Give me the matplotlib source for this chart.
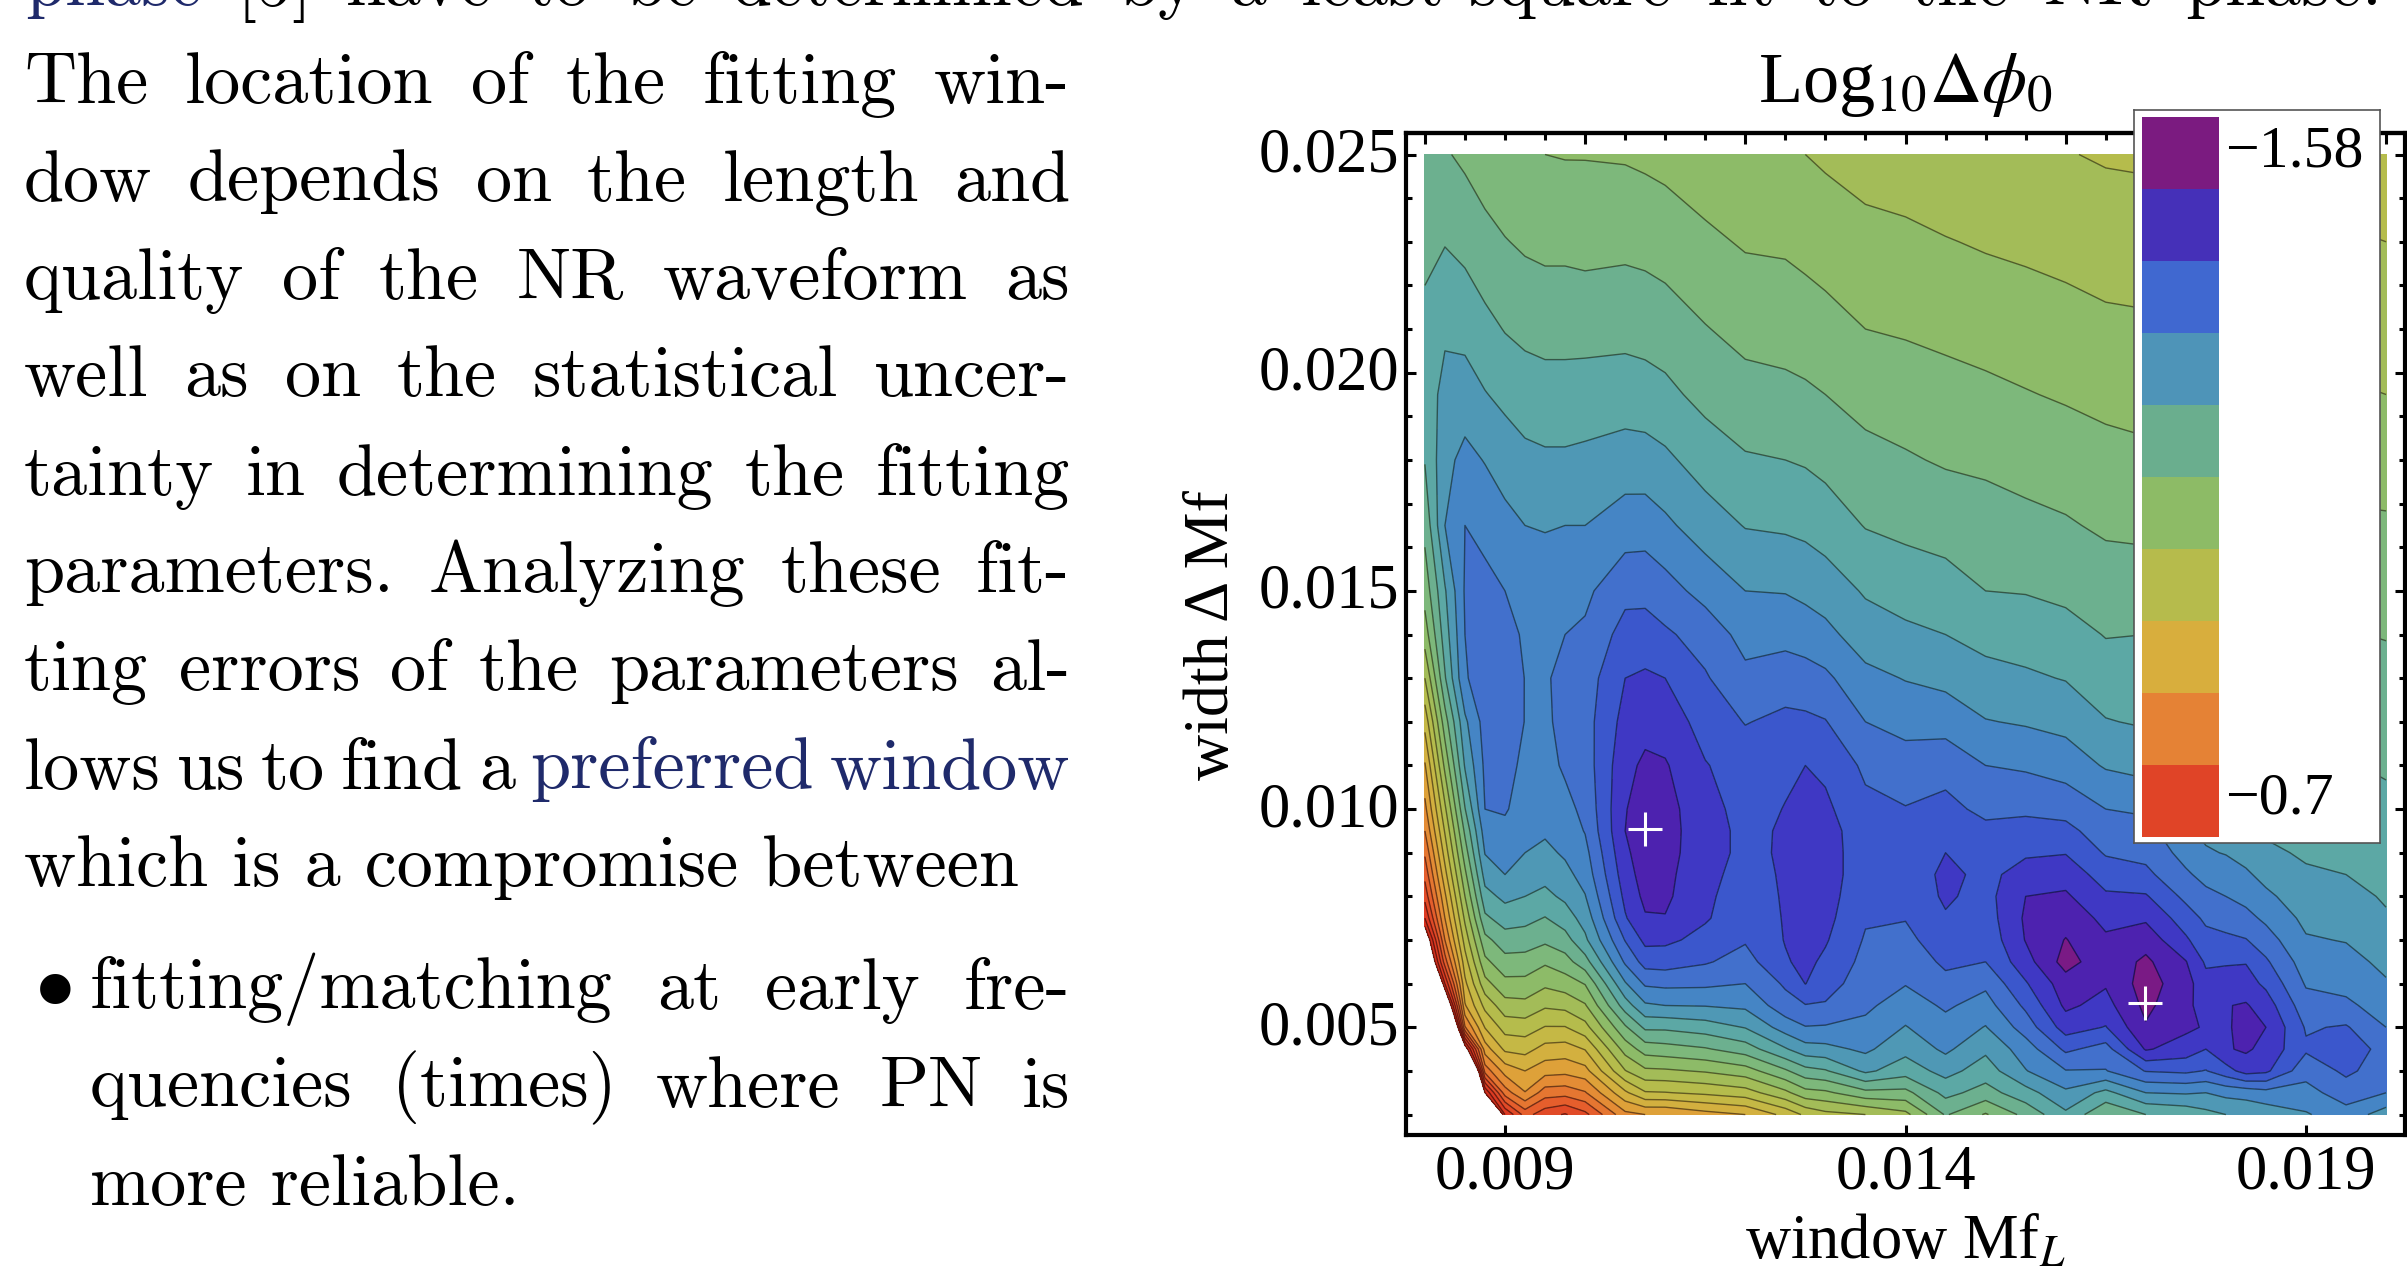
import numpy as np
import matplotlib
matplotlib.use('Agg')
import matplotlib.pyplot as plt
from matplotlib.transforms import ScaledTranslation

W, H = 2407, 1269

# grid rows (width Mf)
y_rows = [0.003, 0.0035, 0.004, 0.0045, 0.005, 0.0055, 0.006, 0.0065, 0.007, 0.0075, 0.008, 0.0085, 0.009,
          0.0095, 0.010, 0.011, 0.012, 0.013, 0.014, 0.015, 0.0165, 0.018, 0.0195, 0.021, 0.023, 0.025]

# grid columns (window MfL)
x_cols = [0.008, 0.00825, 0.0085, 0.00875, 0.009, 0.00925, 0.0095, 0.00975, 0.010, 0.0105, 0.01075, 0.011, 0.0115,
          0.012, 0.0125, 0.01275, 0.013, 0.0135, 0.014, 0.0145, 0.015, 0.0155, 0.016, 0.0165, 0.017, 0.0175,
          0.01775, 0.018, 0.01825, 0.0185, 0.019, 0.0195, 0.020]

# values, in contour steps, one list per column
c0080 = [30, 30, 30, 30, 30, 30, 30, 24.5, 22.6, 20, 18.65, 17.7, 16.85, 16, 15.3, 14.1, 12.65, 11, 9.5, 8.6, 7.7, 6.95, 6.7, 6.8, 7.2, 7.7]
c00825 = [30, 30, 30, 30, 30, 24, 20, 17.5, 16, 15, 14.2, 13.35, 12.6, 11.9, 11.2, 9.75, 8.45, 7.1, 6.5, 6.1, 5.0, 5.3, 5.6, 6.2, 7.05, 7.9]
c0085 = [30, 30, 30, 22, 16.1, 14.1, 13.25, 12.45, 11.6, 10.8, 10, 9.25, 8.5, 7.8, 7.05, 5.9, 5.2, 4.1, 4.0, 3.9, 4.0, 4.7, 5.55, 6.3, 7.3, 8.2]
c00875 = [30, 21, 16.6, 14.5, 12.95, 11.7, 10.35, 9.25, 8.3, 7.2, 6.35, 5.6, 4.95, 4.5, 4.0, 3.8, 3.6, 3.5, 3.5, 3.7, 4.3, 5.05, 5.95, 6.7, 7.7, 8.5]
c0090 = [20, 16.5, 14.6, 12.8, 11.6, 10.4, 9.3, 8.35, 7.45, 6.55, 5.75, 5.0, 4.6, 4.25, 3.9, 3.7, 3.55, 3.5, 3.5, 4.0, 4.7, 5.45, 6.25, 7.05, 7.95, 8.8]
c00925 = [17.6, 15.05, 14, 12.65, 11.5, 10.3, 9.3, 8.4, 7.5, 6.7, 6.0, 5.45, 5.0, 4.65, 4.45, 4.2, 4.02, 4.02, 4.2, 4.5, 5.0, 5.75, 6.5, 7.25, 8.15, 8.95]
c0095 = [18.6, 16.5, 14.6, 13.35, 12.05, 10.85, 9.8, 8.85, 7.8, 7.05, 6.25, 5.7, 5.25, 4.85, 4.65, 4.35, 4.15, 4.1, 4.3, 4.6, 5.05, 5.85, 6.6, 7.35, 8.25, 9.0]
c00975 = [19.1, 16.6, 14.7, 13.45, 12.05, 10.7, 9.5, 8.4, 7.4, 6.5, 5.8, 5.3, 4.85, 4.55, 4.3, 3.85, 3.75, 3.75, 4.0, 4.45, 5.0, 5.85, 6.6, 7.35, 8.25, 9.05]
c0100 = [18.3, 16.1, 14.35, 12.95, 11.35, 10.1, 8.95, 7.4, 6.2, 5.6, 5.05, 4.6, 4.3, 3.95, 3.75, 3.5, 3.4, 3.5, 3.85, 4.2, 5.0, 5.8, 6.5, 7.4, 8.3, 9.05]
c0105 = [15.3, 13.2, 11.05, 9.6, 8.15, 6.5, 5.1, 3.85, 2.95, 2.1, 1.75, 1.45, 1.2, 1.0, 1.05, 1.3, 1.65, 2.0, 2.6, 3.3, 4.5, 5.55, 6.5, 7.3, 8.25, 9.1]
c01075 = [15, 12.1, 10.2, 8.55, 6.8, 5.15, 3.85, 2.6, 1.75, 1.1, 0.75, 0.55, 0.45, 0.45, 0.55, 0.8, 1.35, 1.85, 2.55, 3.3, 4.45, 5.6, 6.55, 7.4, 8.3, 9.2]
c0110 = [15, 12.05, 10.15, 8.4, 6.8, 5, 3.75, 2.55, 1.8, 1.05, 0.8, 0.7, 0.55, 0.5, 0.55, 0.9, 1.5, 2, 2.85, 3.6, 4.8, 5.8, 6.75, 7.5, 8.45, 9.3]
c0115 = [14.4, 11.8, 9.9, 8.1, 6.5, 4.95, 3.8, 2.9, 2.3, 1.9, 1.85, 1.8, 1.75, 1.75, 1.8, 1.95, 2.35, 2.9, 3.4, 4.35, 5.5, 6.45, 7.3, 7.95, 8.8, 9.6]
c0120 = [14, 11.45, 9.45, 7.5, 5.95, 4.8, 4, 3.4, 2.9, 2.6, 2.4, 2.25, 2.15, 2.15, 2.2, 2.4, 3.05, 3.75, 4.35, 5, 6.05, 6.9, 7.65, 8.3, 9.1, 9.75]
c0125 = [12.7, 10.25, 8.15, 6.1, 4.55, 3.4, 2.85, 2.1, 1.95, 1.93, 1.92, 1.92, 1.92, 1.93, 1.98, 2.1, 2.75, 3.5, 4.3, 5.05, 6.15, 7, 7.75, 8.4, 9.15, 9.95]
c01275 = [11.8, 9.35, 7.35, 5.4, 4.05, 3.05, 1.98, 1.75, 1.65, 1.6, 1.55, 1.55, 1.6, 1.7, 1.85, 2.0, 2.8, 3.6, 4.45, 5.25, 6.25, 7.1, 7.85, 8.5, 9.3, 10.0]
c0130 = [11.3, 9.2, 7.1, 5.3, 4.1, 3.1, 2.55, 2.2, 1.9, 1.7, 1.6, 1.6, 1.6, 1.65, 1.8, 2.2, 2.95, 3.8, 4.7, 5.5, 6.45, 7.3, 8, 8.65, 9.45, 10.15]
c0135 = [11, 8.3, 5.8, 4.8, 4.25, 3.8, 3.55, 3.3, 3.1, 2.9, 2.7, 2.5, 2.5, 2.5, 2.75, 3.2, 4, 4.7, 5.55, 6.1, 7.05, 7.7, 8.35, 9, 9.7, 10.4]
c0140 = [10.3, 8.3, 6.55, 5.7, 5.05, 4.5, 3.95, 3.65, 3.3, 2.95, 2.7, 2.55, 2.5, 2.6, 2.95, 3.6, 4.3, 5.05, 5.8, 6.4, 7.25, 7.9, 8.5, 9.1, 9.8, 10.5]
c0145 = [7.9, 6.7, 5.65, 4.8, 4.35, 3.85, 3.3, 2.8, 2.35, 2.1, 1.85, 1.8, 2, 2.35, 2.65, 3.45, 4.35, 5.3, 6, 6.6, 7.4, 8.1, 8.7, 9.2, 9.95, 10.75]
c0150 = [9.1, 7.4, 6.5, 5.8, 5.05, 4.4, 3.8, 3, 2.7, 2.5, 2.35, 2.2, 2.25, 2.7, 3.3, 4, 4.95, 5.7, 6.3, 7, 7.55, 8.2, 8.8, 9.35, 10.1, 10.85]
c0155 = [7.7, 6.4, 5.05, 4.5, 3.55, 2.8, 2.1, 1.4, 0.95, 0.85, 1, 1.7, 2.1, 2.7, 3.15, 4.15, 5.1, 5.85, 6.45, 7.05, 7.75, 8.35, 8.95, 9.5, 10.2, 10.9]
c0160 = [6.2, 5.2, 4.05, 2.8, 1.55, 0.8, 0.45, -0.4, -0.05, 0.4, 0.85, 1.4, 2.05, 2.7, 3.35, 4.45, 5.3, 6.05, 6.6, 7.25, 7.9, 8.5, 9.1, 9.6, 10.35, 10.95]
c0165 = [7.9, 6.3, 4.05, 3.4, 2.05, 1.35, 0.9, 0.65, 0.85, 1.25, 1.85, 2.45, 3.1, 3.55, 4, 5.1, 5.95, 6.5, 7.05, 7.5, 8.15, 8.7, 9.25, 9.8, 10.45, 11.1]
c0170 = [7, 5, 2.95, 0.9, 0.1, -0.25, -0.45, -0.2, 0.4, 1.15, 1.9, 2.75, 3.3, 3.65, 4.15, 5.35, 6.1, 6.55, 7, 7.55, 8.2, 8.8, 9.35, 9.85, 10.5, 11.15]
c0175 = [6.7, 4.9, 2.8, 1.45, 0.8, 0.8, 0.6, 0.95, 1.85, 2.5, 3.25, 3.85, 4.35, 4.85, 5.15, 6, 6.45, 6.85, 7.3, 7.8, 8.4, 8.9, 9.4, 9.95, 10.55, 11.2]
c01775 = [6.3, 5, 3.05, 2, 1.1, 1.35, 1.65, 2.15, 2.65, 3.2, 3.75, 4.3, 4.9, 5.2, 5.6, 6.25, 6.6, 7, 7.45, 7.9, 8.45, 8.95, 9.45, 9.95, 10.6, 11.25]
c0180 = [6, 4.7, 2.4, 1.1, 1.1, 1.05, 1.55, 2.1, 2.8, 3.4, 4, 4.55, 5.05, 5.45, 6, 6.4, 6.65, 7.05, 7.5, 7.95, 8.5, 9, 9.5, 10, 10.65, 11.3]
c01825 = [5.8, 4.6, 1.6, 0.85, 0.75, 0.9, 1.6, 2.05, 2.95, 3.7, 4.3, 4.85, 5.35, 5.8, 6.15, 6.5, 6.8, 7.2, 7.6, 8, 8.55, 9.05, 9.55, 10.05, 10.7, 11.35]
c0185 = [5.6, 4.35, 1.8, 1.3, 1, 1.5, 2.2, 2.85, 3.55, 4.2, 4.8, 5.3, 5.85, 6.1, 6.3, 6.6, 6.95, 7.3, 7.65, 8.05, 8.6, 9.1, 9.6, 10.1, 10.75, 11.35]
c0190 = [5.1, 4.35, 3.65, 2.85, 3.1, 3.6, 4.1, 4.5, 4.9, 5.25, 5.55, 5.9, 6.1, 6.3, 6.45, 6.75, 7.1, 7.5, 7.8, 8.15, 8.75, 9.25, 9.75, 10.2, 10.8, 11.4]
c0195 = [4.4, 3.5, 2.8, 2.6, 2.9, 3.8, 4.3, 4.65, 5.05, 5.35, 5.7, 6, 6.15, 6.35, 6.6, 6.95, 7.3, 7.65, 7.95, 8.3, 8.85, 9.35, 9.9, 10.35, 10.9, 11.5]
c0200 = [5.5, 4, 3.5, 3.25, 4, 4.45, 4.9, 5.25, 5.55, 5.9, 6.1, 6.3, 6.45, 6.6, 6.8, 7.1, 7.4, 7.7, 8.05, 8.35, 8.9, 9.35, 10, 10.45, 11, 11.6]

columns = [c0080, c00825, c0085, c00875, c0090, c00925, c0095, c00975, c0100, c0105, c01075, c0110, c0115, c0120,
           c0125, c01275, c0130, c0135, c0140, c0145, c0150, c0155, c0160, c0165, c0170, c0175, c01775, c0180,
           c01825, c0185, c0190, c0195, c0200]

# best windows
best_x = [0.01075, 0.01699]
best_y = [0.00954, 0.00556]

# one colour for each contour band
band_colors = ['#7A1A85', '#4D22AF', '#3F38C4', '#3B57CC', '#4270CC', '#4585C5', '#4F98B5', '#5CA8A5',
               '#6CB08F', '#7DB87B', '#8DBB68', '#A3BC58', '#B5BC4C', '#C5B845', '#D3B03F', '#DEA139',
               '#E48C35', '#E57631', '#E55E2C', '#E14A27', '#DE3A22', '#D4301E']

legend_colors = ['#E04427', '#E58235', '#D8AE3D', '#B6BB4C', '#8DBB66', '#6AAE8E', '#4E94B8', '#4068D0',
                 '#4530B8', '#7B1B80']
legend_labels = ['\u22120.7', '\u22121.58']

# page text, line by line
body_lines = [['The', 'location', 'of', 'the', 'fitting', 'win-'],
              ['dow', 'depends', 'on', 'the', 'length', 'and'],
              ['quality', 'of', 'the', 'NR', 'waveform', 'as'],
              ['well', 'as', 'on', 'the', 'statistical', 'uncer-'],
              ['tainty', 'in', 'determining', 'the', 'fitting'],
              ['parameters.', 'Analyzing', 'these', 'fit-'],
              ['ting', 'errors', 'of', 'the', 'parameters', 'al-'],
              ['lows', 'us', 'to', 'find', 'a', 'preferred', 'window']]
top_line = ['phase', '[5]', 'have', 'to', 'be', 'determined', 'by', 'a', 'least-square', 'fit', 'to', 'the', 'NR', 'phase.']
bullet_lines = [['fitting/matching', 'at', 'early', 'fre-'],
                ['quencies', '(times)', 'where', 'PN', 'is']]
navy_words = ['preferred', 'window']
navy = '#1F2A6B'

fig = plt.figure(figsize=(W / 100, H / 100), dpi=100)
renderer = fig.canvas.get_renderer()
body_size = 52


def put_line(words, x0, x1, y, navy_first=False):
    # justified line: the space between the words is whatever is left over
    items = []
    for w in words:
        color = navy if w in navy_words else 'black'
        items.append(fig.text(x0 / W, 1 - y / H, w, family='cmr10', fontsize=body_size, color=color, va='baseline'))
    if navy_first:
        items[0].set_color(navy)
    widths = [t.get_window_extent(renderer).width for t in items]
    gap = (x1 - x0 - sum(widths)) / (len(words) - 1)
    x = x0
    for t, w in zip(items, widths):
        t.set_x(x / W)
        x += w + gap


put_line(top_line, 25, 2382, 5, navy_first=True)
for i, line in enumerate(body_lines):
    put_line(line, 24, 1070, 102.5 + i * 98)
fig.text(24 / W, 1 - 886.5 / H, 'which is a compromise between', family='cmr10', fontsize=body_size)
fig.text(33 / W, 1 - 1031 / H, '\u2022', family='Liberation Serif', fontsize=92)
put_line(bullet_lines[0], 90, 1070, 1008.5)
put_line(bullet_lines[1], 90, 1070, 1106.5)
fig.text(90 / W, 1 - 1204.5 / H, 'more reliable.', family='cmr10', fontsize=body_size)

# contour plot
ax = fig.add_axes([1406 / W, (H - 1135) / H, (2405 - 1406) / W, (1135 - 133) / H])
log_dphi = -1.56 + 0.04 * np.array(columns).T
levels = -1.56 + 0.04 * np.arange(-1, 22)
ax.contourf(x_cols, y_rows, log_dphi, levels=levels, colors=band_colors)
ax.contour(x_cols, y_rows, log_dphi, levels=levels[1:], colors='black', linewidths=1.0, alpha=0.5,
           linestyles='solid')
ax.plot(best_x, best_y, '+', color='white', ms=24, mew=2.2)

ax.set_xlim(0.009 + (1406 - 1505) / 80100, 0.009 + (2405 - 1505) / 80100)
ax.set_ylim(0.005 - (1135 - 1027.3) / 43640, 0.005 + (1027.3 - 133) / 43640)
ax.set_xticks([0.009, 0.014, 0.019])
ax.set_xticklabels(['0.009', '0.014', '0.019'], family='Liberation Serif', fontsize=45)
ax.set_yticks([0.005, 0.010, 0.015, 0.020, 0.025])
ax.set_yticklabels(['0.005', '0.010', '0.015', '0.020', '0.025'], family='Liberation Serif', fontsize=45)
ax.set_yticks(np.arange(0.003, 0.0255, 0.001), minor=True)
ax.tick_params(axis='x', which='major', direction='in', length=7, width=2.2, pad=7)
ax.tick_params(axis='y', which='major', direction='in', length=7, width=2.2, right=True, pad=5)
ax.tick_params(axis='y', which='minor', direction='in', length=4, width=2.2, right=True)
for s in ax.spines.values():
    s.set_linewidth(3)
# y labels sit a little above their ticks in the original
for lab in ax.get_yticklabels():
    lab.set_transform(lab.get_transform() + ScaledTranslation(0, 5 / 100, fig.dpi_scale_trans))

top = ax.secondary_xaxis('top')
top.set_xticks([0.008, 0.010, 0.012, 0.014, 0.016, 0.018, 0.020], labels=[])
top.set_xticks(np.arange(0.008, 0.0201, 0.0005), minor=True)
top.tick_params(which='major', direction='in', length=8, width=2.2)
top.tick_params(which='minor', direction='in', length=5, width=2.2)
top.spines['top'].set_linewidth(3)

fig.text(1905 / W, 1 - 102 / H, 'Log$_{10}\\Delta\\phi_0$', family='Liberation Serif', fontsize=52,
         ha='center', va='baseline', math_fontfamily='stix')
fig.text(1905 / W, 1 - 1259 / H, 'window Mf$_{L}$', family='Liberation Serif', fontsize=45, ha='center',
         va='baseline', math_fontfamily='stix')
fig.text(1213 / W, 1 - 635 / H, 'width \u0394 Mf', family='Liberation Serif', fontsize=46, ha='center', va='center',
         rotation=90)

# legend box with the colour steps
leg = fig.add_axes([2134 / W, (H - 843) / H, (2380 - 2134) / W, (843 - 110) / H], zorder=5)
leg.bar(46.5, 1, width=77, bottom=np.arange(10), color=legend_colors)
leg.set_xlim(0, 246)
leg.set_ylim(-6 / 72.05, 10 + 6.5 / 72.05)
leg.set_xticks([])
leg.set_yticks([])
for s in leg.spines.values():
    s.set_linewidth(1.2)
    s.set_color('#555555')
leg.text(91, 0.33, legend_labels[0], family='Liberation Serif', fontsize=43, va='baseline')
leg.text(91, 9.31, legend_labels[1], family='Liberation Serif', fontsize=43, va='baseline')

plt.savefig('out.png', dpi=100)
